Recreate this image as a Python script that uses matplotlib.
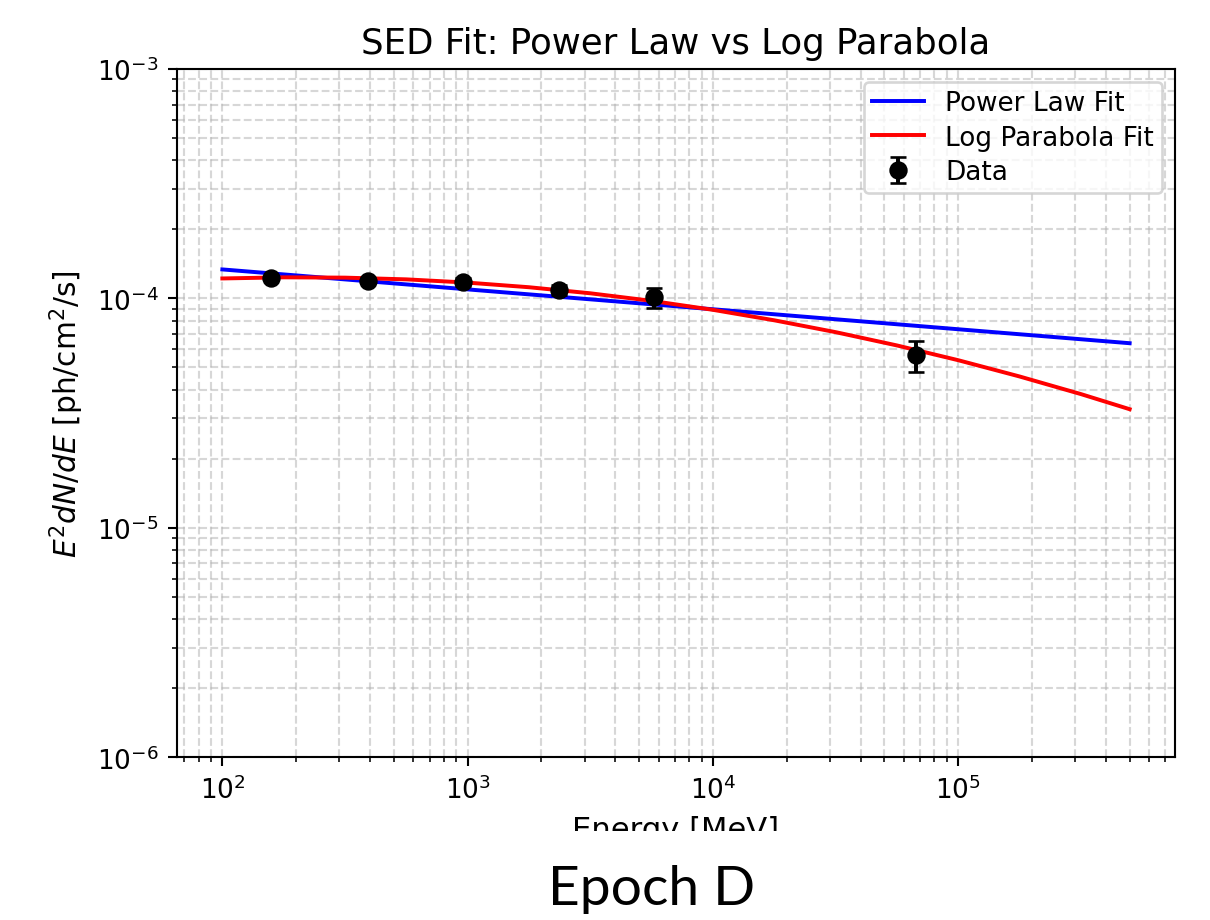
import matplotlib
matplotlib.use("Agg")
import matplotlib.pyplot as plt
from matplotlib.patches import Rectangle

# Data points
energy = [158, 392, 955, 2350, 5735, 67000]
flux = [1.226e-4, 1.193e-4, 1.181e-4, 1.090e-4, 1.010e-4, 5.66e-5]
flux_err = [2.5e-6, 3.0e-6, 5.0e-6, 5.0e-6, 1.05e-5, 8.7e-6]

# Fit curves
pl_energy = [1e2, 1e3, 1e4, 1e5, 5e5]
pl_flux = [1.338e-4, 1.095e-4, 8.97e-5, 7.34e-5, 6.38e-5]

lp_energy = [1e2, 178, 316, 562, 1e3, 1778, 3162, 5623, 1e4, 17783, 31623,
             56234, 1e5, 177828, 316228, 5e5]
lp_flux = [1.222e-4, 1.236e-4, 1.232e-4, 1.211e-4, 1.172e-4, 1.119e-4,
           1.053e-4, 9.76e-5, 8.92e-5, 8.03e-5, 7.13e-5, 6.24e-5, 5.38e-5,
           4.57e-5, 3.83e-5, 3.29e-5]

W, H, DPI = 1210, 921, 189
fig = plt.figure(figsize=(W / DPI, H / DPI), dpi=DPI)
ax = fig.add_axes([177 / W, 1 - 758.3 / H, (1175 - 177) / W, (758.3 - 70) / H])

ax.plot(pl_energy, pl_flux, color="blue", label="Power Law Fit")
ax.plot(lp_energy, lp_flux, color="red", label="Log Parabola Fit")
ax.errorbar(energy, flux, yerr=flux_err, fmt="o", color="black", capsize=3, label="Data")

ax.set_xscale("log")
ax.set_yscale("log")
ax.set_ylim(1e-6, 1e-3)
ax.set_xlabel("Energy [MeV]", fontsize=11.7)
ax.set_ylabel(r"$E^2 dN/dE$ [ph/cm$^2$/s]", fontsize=11.3)
ax.set_title("SED Fit: Power Law vs Log Parabola", fontsize=13.5)
ax.grid(True, which="both", linestyle="--", alpha=0.5)
ax.legend(loc="upper right", labelspacing=0.33, borderpad=0.3)

# slide cropping + caption
fig.add_artist(Rectangle((0, 0), 1, 1 - 832 / H, transform=fig.transFigure,
                         facecolor="white", edgecolor="none", zorder=10))
fig.text(652 / W, 1 - 905 / H, "Epoch D", ha="center", va="baseline",
         fontsize=21, family=["Lato", "DejaVu Sans"], zorder=11)

fig.savefig("out.png", dpi=DPI)
